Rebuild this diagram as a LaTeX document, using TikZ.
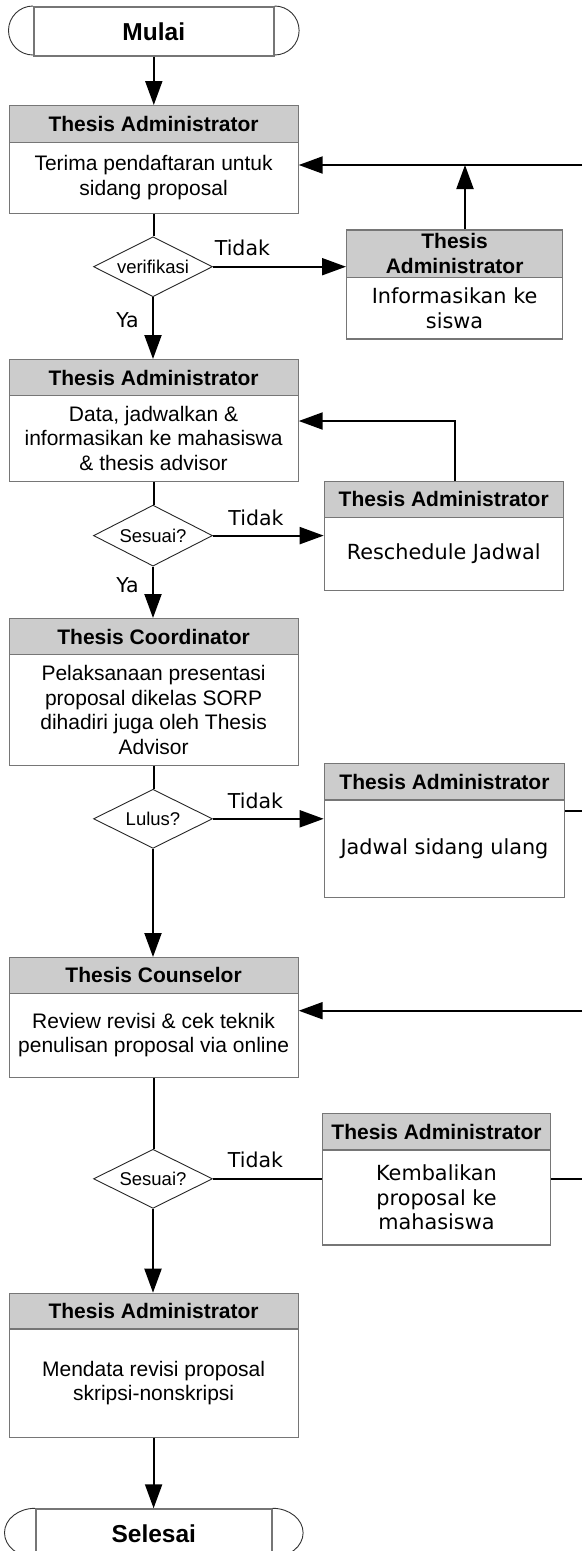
\documentclass[tikz,border=0pt]{standalone}
\usepackage{fontspec}
\setmainfont{Liberation Sans}
\newfontfamily\vfont{DejaVu Sans}
\usetikzlibrary{shapes.geometric,arrows.meta}
\definecolor{hdrgray}{RGB}{204,204,204}
\definecolor{bordgray}{RGB}{118,118,118}
\begin{document}
\begin{tikzpicture}[x=1pt,y=-1pt,
  hdr/.style={draw=bordgray, fill=hdrgray, line width=1.2pt, inner sep=0pt, anchor=north west, align=center, font=\bfseries\fontsize{21}{25.5}\selectfont},
  bodybox/.style={draw=bordgray, fill=white, line width=1.2pt, inner sep=0pt, anchor=north west, align=center, font=\fontsize{21}{24.5}\selectfont},
  vbodybox/.style={bodybox, font=\vfont\fontsize{20.8}{24.5}\selectfont},
  decision/.style={diamond, draw=black!85, line width=0.9pt, fill=white, inner sep=0pt, minimum width=119pt, minimum height=60pt},
  dtext/.style={font=\fontsize{18.5}{20}\selectfont, inner sep=0pt},
  conn/.style={draw=black, line width=2pt},
  arr/.style={conn, -{Triangle[length=24pt,width=17pt]}},
  lbl/.style={font=\vfont\fontsize{20.5}{24}\selectfont, inner sep=0pt},
  termbox/.style={draw=bordgray, line width=1.6pt, inner sep=0pt, anchor=north west, font=\bfseries\fontsize{24.5}{28}\selectfont},
  arcline/.style={draw=black!80, line width=0.9pt}]
\useasboundingbox (0,0) rectangle (582,1551);
\fill[white] (0,0) rectangle (582,1551);
\clip (0,0) rectangle (582,1551);

% ---------- start terminal
\node[termbox, minimum width=240pt, minimum height=49pt] (start) at (33,6) {Mulai};
\draw[arcline] (start.north west) arc[start angle=90, end angle=270, x radius=24.5pt, y radius=24.5pt];
\draw[arcline] (start.north east) arc[start angle=90, end angle=-90, x radius=24.5pt, y radius=24.5pt];

% ---------- main column
\node[hdr, minimum width=289pt, minimum height=36.7pt] (b1h) at (8.5,105) {Thesis Administrator};
\node[bodybox, minimum width=289pt, minimum height=71pt] (b1) at (8.5,141.7) {Terima pendaftaran untuk\\sidang proposal};

\node[decision, label={[dtext]center:verifikasi}] (d1) at (153,266.7) {};

\node[hdr, minimum width=289pt, minimum height=36pt] (b3h) at (8.5,359) {Thesis Administrator};
\node[bodybox, minimum width=289pt, minimum height=85.7pt] (b3) at (8.5,395) {Data, jadwalkan \&\\informasikan ke mahasiswa\\\& thesis advisor};

\node[decision, minimum height=61pt, label={[dtext]center:Sesuai?}] (d2) at (153,535.6) {};

\node[hdr, minimum width=289pt, minimum height=36pt] (b5h) at (8.5,618) {Thesis Coordinator};
\node[bodybox, minimum width=289pt, minimum height=111pt] (b5) at (8.5,654) {Pelaksanaan presentasi\\proposal dikelas SORP\\dihadiri juga oleh Thesis\\Advisor};

\node[decision, minimum height=59pt, label={[dtext]center:Lulus?}] (d3) at (153,818.8) {};

\node[hdr, minimum width=289pt, minimum height=35.7pt] (b7h) at (8.5,957) {Thesis Counselor};
\node[bodybox, minimum width=289pt, minimum height=84pt] (b7) at (8.5,992.7) {Review revisi \& cek teknik\\penulisan proposal via online};

\node[decision, minimum height=59pt, label={[dtext]center:Sesuai?}] (d4) at (153,1178.8) {};

\node[hdr, minimum width=289pt, minimum height=35.6pt] (b9h) at (8.5,1292.7) {Thesis Administrator};
\node[bodybox, minimum width=289pt, minimum height=108.2pt] (b9) at (8.5,1328.3) {Mendata revisi proposal\\skripsi-nonskripsi};

% ---------- end terminal
\node[termbox, minimum width=236pt, minimum height=49pt] (stop) at (35,1508.3) {Selesai};
\draw[arcline] (stop.north west) arc[start angle=90, end angle=270, x radius=30.5pt, y radius=24.5pt];
\draw[arcline] (stop.north east) arc[start angle=90, end angle=-90, x radius=30.5pt, y radius=24.5pt];

% ---------- right column
\node[hdr, minimum width=216pt, minimum height=47.4pt] (b2h) at (346,229.3) {Thesis\\Administrator};
\node[vbodybox, minimum width=216pt, minimum height=61.6pt] (b2) at (346,276.7) {Informasikan ke\\siswa};

\node[hdr, minimum width=238.8pt, minimum height=36pt] (b4h) at (323.7,480.7) {Thesis Administrator};
\node[vbodybox, minimum width=238.8pt, minimum height=73.3pt] (b4) at (323.7,516.7) {Reschedule Jadwal};

\node[hdr, minimum width=240.3pt, minimum height=36.3pt] (b6h) at (323.7,763) {Thesis Administrator};
\node[vbodybox, minimum width=240.3pt, minimum height=97.4pt] (b6) at (323.7,799.3) {Jadwal sidang ulang};

\node[hdr, minimum width=228.2pt, minimum height=36.3pt] (b8h) at (321.8,1113) {Thesis Administrator};
\node[vbodybox, minimum width=228.2pt, minimum height=95pt] (b8) at (321.8,1149.3) {Kembalikan\\proposal ke\\mahasiswa};

% ---------- labels
\node[lbl] (t1) at (242.4,248.3) {Tidak};
\node[lbl] (t2) at (256,517.5) {Tidak};
\node[lbl] (t3) at (255.5,800.5) {Tidak};
\node[lbl] (t4) at (255.5,1159.7) {Tidak};
\node[lbl] (y1) at (127.5,320) {Ya};
\node[lbl] (y2) at (127.5,585) {Ya};

% ---------- free ends / bends
\coordinate (e1) at (582,165);
\coordinate (j1) at (465,165);
\coordinate (j2) at (455,421);
\coordinate (e2) at (582,811.3);
\coordinate (e3) at (582,1010.7);
\coordinate (e4) at (582,1178.8);

% ---------- connectors
\draw[arr] (start.south) -- (start.south |- b1h.north);
\draw[conn] (b1.south) -- (b1.south |- d1.north);
\draw[arr] (d1.south) -- (d1.south |- b3h.north);
\draw[conn] (b3.south) -- (b3.south |- d2.north);
\draw[arr] (d2.south) -- (d2.south |- b5h.north);
\draw[conn] (b5.south) -- (b5.south |- d3.north);
\draw[arr] (d3.south) -- (d3.south |- b7h.north);
\draw[conn] (b7.south) -- (b7.south |- d4.north);
\draw[arr] (d4.south) -- (d4.south |- b9h.north);
\draw[arr] (b9.south) -- (b9.south |- stop.north);

\draw[arr] (d1.east) -- (d1.east -| b2h.west);
\draw[arr] (d2.east) -- (d2.east -| b4.west);
\draw[arr] (d3.east) -- (d3.east -| b6.west);
\draw[conn] (d4.east) -- (d4.east -| b8.west);

\draw[arr] (e1) -- (e1 -| b1.east);
\draw[arr] (j1 |- b2h.north) -- (j1);
\draw[arr] (j2 |- b4h.north) -- (j2) -- (j2 -| b3.east);
\draw[conn] (e2 -| b6.east) -- (e2);
\draw[arr] (e3) -- (e3 -| b7.east);
\draw[conn] (e4 -| b8.east) -- (e4);
\end{tikzpicture}
\end{document}
